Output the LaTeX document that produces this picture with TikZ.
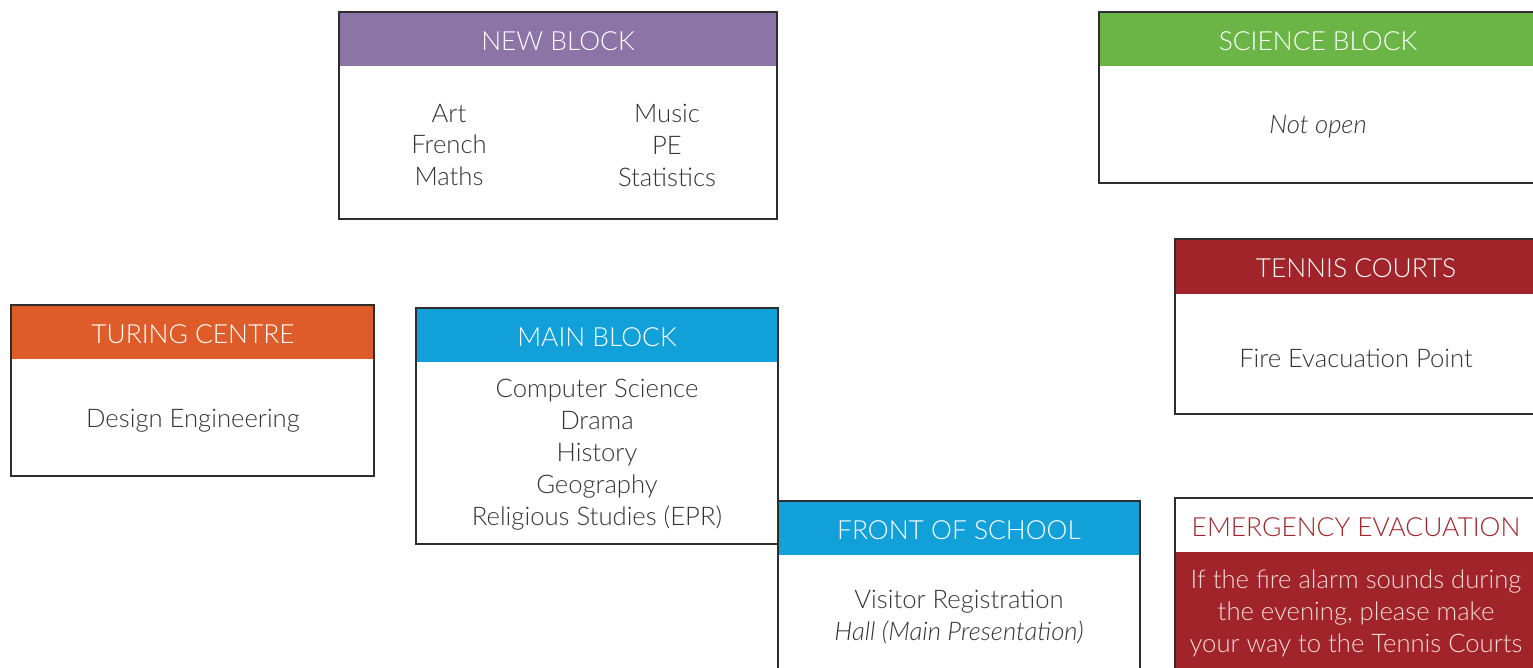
\documentclass[tikz,border=0pt]{standalone}
\usepackage{fontspec}
\setmainfont{Lato}[UprightFont={* Light}, ItalicFont={* Light Italic}]
\usepackage{tikz}
\definecolor{boxline}{HTML}{2E2E2E}
\definecolor{bodytext}{HTML}{333333}
\definecolor{newpurple}{HTML}{8C74A6}
\definecolor{sciencegreen}{HTML}{6AB545}
\definecolor{tennisred}{HTML}{A0242A}
\definecolor{turingorange}{HTML}{DD5C2A}
\definecolor{mainblue}{HTML}{12A0D9}
\definecolor{evacpink}{HTML}{F5DADA}

\begin{document}
\begin{tikzpicture}[
      x=0.02cm, y=-0.02cm,
      frame/.style={draw=boxline, line width=1.3pt},
      head/.style={text=white, font=\fontsize{15}{18}\selectfont},
      body/.style={align=center, text=bodytext, font=\fontsize{14.6}{18.2}\selectfont}]
    \useasboundingbox (0,0) rectangle (1533,667);
    \clip (0,0) rectangle (1533,667);

    %% new block
    \fill[newpurple] (339,12) rectangle (777,66);
    \draw[frame] (339,12) rectangle (777,219);
    \node[head] (newhead) at (558,41) {NEW BLOCK};
    \node[body] (newleft) at (449,145) {Art\\French\\Maths};
    \node[body] (newright) at (667,145) {Music\\PE\\Statistics};

    %% science block
    \fill[sciencegreen] (1099,12) rectangle (1560,66);
    \draw[frame] (1099,12) rectangle (1560,183);
    \node[head] (scihead) at (1318,41) {SCIENCE BLOCK};
    \node[body] (scibody) at (1318,127) {\itshape Not open};

    %% tennis courts
    \fill[tennisred] (1175,239) rectangle (1560,294);
    \draw[frame] (1175,239) rectangle (1560,414);
    \node[head] (tennishead) at (1356,268) {TENNIS COURTS};
    \node[body] (tennisbody) at (1356,358) {Fire Evacuation Point};

    %% turing centre
    \fill[turingorange] (11,305) rectangle (374,359);
    \draw[frame] (11,305) rectangle (374,476);
    \node[head] (turinghead) at (193,334) {TURING CENTRE};
    \node[body] (turingbody) at (193,421) {Design Engineering};

    %% main block
    \fill[mainblue] (416,308) rectangle (778,362);
    \draw[frame] (416,308) rectangle (778,544);
    \node[head] (mainhead) at (597,337) {MAIN BLOCK};
    \node[body] (mainbody) at (597,455) {Computer Science\\Drama\\History\\Geography\\Religious Studies (EPR)};

    %% front of school
    \fill[mainblue] (778,501) rectangle (1140,555);
    \draw[frame] (778,501) rectangle (1140,700);
    \node[head] (fronthead) at (959,530) {FRONT OF SCHOOL};
    \node[body] (frontbody) at (959,617) {Visitor Registration\\\itshape Hall (Main Presentation)};

    %% emergency evacuation
    \fill[tennisred] (1175,552) rectangle (1560,700);
    \draw[frame] (1175,498) rectangle (1560,700);
    \node[head, text=tennisred] (evachead) at (1356,527) {EMERGENCY EVACUATION};
    \node[body, text=evacpink] (evacbody) at (1356,613) {If the fire alarm sounds during\\the evening, please make\\your way to the Tennis Courts};
\end{tikzpicture}
\end{document}
